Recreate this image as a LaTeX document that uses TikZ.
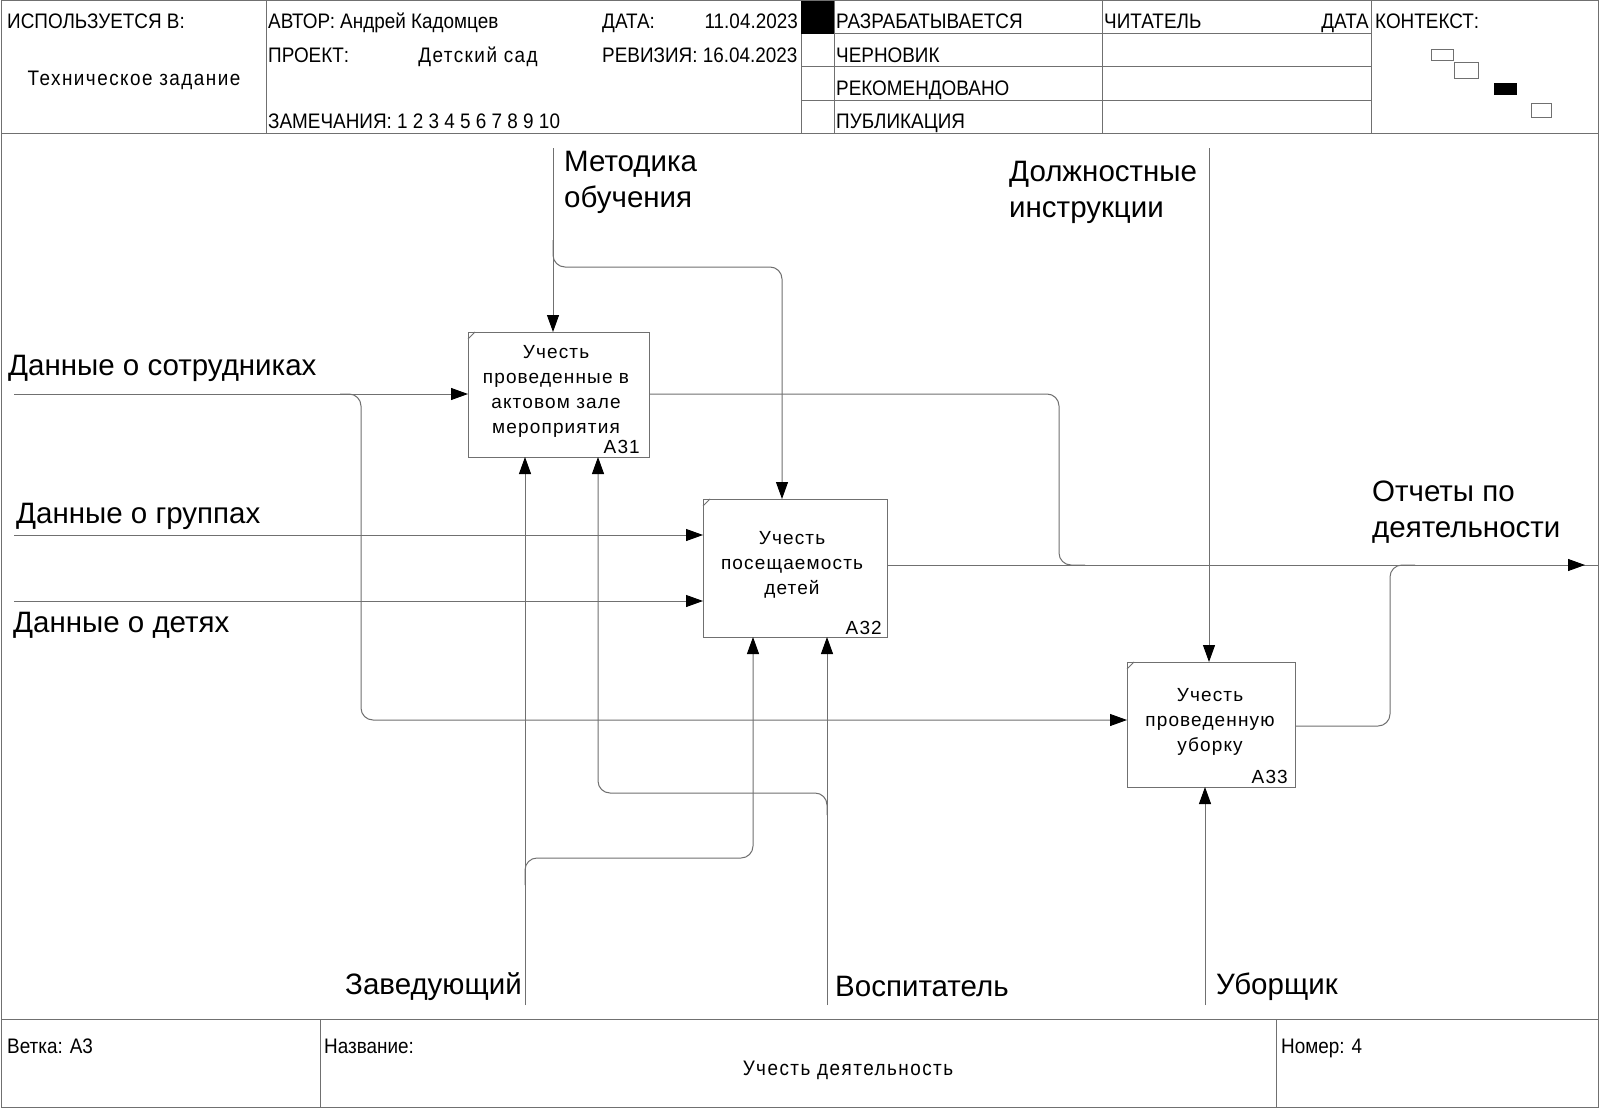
\documentclass[tikz,border=0pt]{standalone}
\usepackage{fontspec}
\setmainfont{Liberation Sans}
\newfontfamily\hdrfont[FakeStretch=0.9]{Liberation Sans}
\newfontfamily\hdrspfont[FakeStretch=0.9,LetterSpace=7]{Liberation Sans}
\newfontfamily\actfont[LetterSpace=6]{Liberation Sans}
\usetikzlibrary{arrows.meta}
\definecolor{rulegray}{RGB}{112,112,112}

\tikzset{
  rule/.style={draw=rulegray, line width=1pt},
  wire/.style={draw=rulegray, line width=1pt, rounded corners=12pt},
  flow/.style={wire, -{Triangle[length=17pt,width=12pt,color=black]}},
  actbox/.style={draw=rulegray, line width=1pt, outer sep=0pt, inner sep=0pt},
  hdr/.style={font=\hdrfont\fontsize{21}{24}\selectfont, inner sep=0pt, anchor=base west},
  hdrsp/.style={font=\hdrspfont\fontsize{21}{24}\selectfont, inner sep=0pt, anchor=base},
  biglabel/.style={font=\fontsize{29.5}{36}\selectfont, inner sep=0pt, align=left, anchor=base west},
  acttext/.style={font=\actfont\fontsize{19}{25}\selectfont, inner sep=0pt, align=center},
  actnum/.style={font=\actfont\fontsize{19}{25}\selectfont, inner sep=0pt, anchor=base east},
}

\begin{document}
\begin{tikzpicture}[x=1pt,y=-1pt]
\useasboundingbox (0,0) rectangle (1600,1108);
\fill[white] (0,0) rectangle (1600,1108);

% ---- sheet frame, header and footer grid ----
\draw[rule] (1,1) rectangle (1598,1107);
\draw[rule] (1,133.5) -- (1598,133.5);
\draw[rule] (1,1019.5) -- (1598,1019.5);
\draw[rule] (266,1) -- (266,133.5);
\draw[rule] (801,1) -- (801,133.5);
\draw[rule] (834,1) -- (834,133.5);
\draw[rule] (1102,1) -- (1102,133.5);
\draw[rule] (1371,1) -- (1371,133.5);
\foreach \y in {34,67,100} \draw[rule] (801,\y) -- (1371,\y);
\fill[black] (801,1) rectangle (834,34);
\draw[rule] (320,1019.5) -- (320,1107);
\draw[rule] (1276.5,1019.5) -- (1276.5,1107);

% context thumbnail
\draw[rule] (1431,50) rectangle (1453,61);
\draw[rule] (1454,63) rectangle (1478,78);
\fill[black] (1494,83) rectangle (1517,95);
\draw[rule] (1531,103) rectangle (1551,117);

% ---- header texts ----
\node[hdr] (usedin) at (7,29) {ИСПОЛЬЗУЕТСЯ В:};
\node[hdrsp] (spec) at (134,85.5) {Техническое задание};
\node[hdr] (author) at (268,29) {АВТОР: Андрей Кадомцев};
\node[hdr] (datelbl) at (602,29) {ДАТА:};
\node[hdr, anchor=base east] (dateval) at (798,29) {11.04.2023};
\node[hdr] (project) at (268,62.5) {ПРОЕКТ:};
\node[hdrsp] (projname) at (478,62.5) {Детский сад};
\node[hdr] (revision) at (602,62.5) {РЕВИЗИЯ: 16.04.2023};
\node[hdr] (notes) at (268,128) {ЗАМЕЧАНИЯ: 1 2 3 4 5 6 7 8 9 10};
\node[hdr] (st1) at (836,29) {РАЗРАБАТЫВАЕТСЯ};
\node[hdr] (st2) at (836,62.5) {ЧЕРНОВИК};
\node[hdr] (st3) at (836,95.5) {РЕКОМЕНДОВАНО};
\node[hdr] (st4) at (836,128) {ПУБЛИКАЦИЯ};
\node[hdr] (reader) at (1104,29) {ЧИТАТЕЛЬ};
\node[hdr, anchor=base east] (rdate) at (1369,29) {ДАТА};
\node[hdr] (context) at (1375,29) {КОНТЕКСТ:};

% ---- footer texts ----
\node[hdr] (branch) at (7,1053) {Ветка: А3};
\node[hdr] (titlelbl) at (324,1053) {Название:};
\node[hdrsp] (title) at (848,1075) {Учесть деятельность};
\node[hdr] (number) at (1281,1053) {Номер: 4};

% ---- activity boxes ----
\node[actbox, minimum width=181pt, minimum height=125pt] (A31) at (558.5,394.5) {};
\node[actbox, minimum width=184pt, minimum height=138pt] (A32) at (795,568) {};
\node[actbox, minimum width=168pt, minimum height=125pt] (A33) at (1211,724.5) {};
\foreach \b in {A31,A32,A33}
  \draw[rule] (\b.north west) ++(0,7) -- ++(7,-7);

\node[acttext] (A31t) at (556,391.5) {Учесть\\проведенные в\\актовом зале\\мероприятия};
\node[actnum] (A31n) at (640,453) {А31};
\node[acttext] (A32t) at (792,565) {Учесть\\посещаемость\\детей};
\node[actnum] (A32n) at (882,634) {А32};
\node[acttext] (A33t) at (1210,722) {Учесть\\проведенную\\уборку};
\node[actnum] (A33n) at (1288,783) {А33};

% ---- arrow labels ----
\node[biglabel] (staff) at (8,375) {Данные о сотрудниках};
\node[biglabel] (groups) at (16,523) {Данные о группах};
\node[biglabel] (kids) at (13,632) {Данные о детях};
\node[biglabel] (method) at (564,207) {Методика\\обучения};
\node[biglabel] (duties) at (1009,217) {Должностные\\инструкции};
\node[biglabel] (reports) at (1372,537) {Отчеты по\\деятельности};
\node[biglabel] (head) at (345,994.5) {Заведующий};
\node[biglabel] (teacher) at (835,996.5) {Воспитатель};
\node[biglabel] (cleaner) at (1216,994.5) {Уборщик};

% ---- connector end points ----
\coordinate (inStaff) at (14,394);
\coordinate (splitStaff) at (361,394);
\coordinate (turnStaff) at (361,720);
\coordinate (inGroups) at (14,535);
\coordinate (inKids) at (14,601);
\coordinate (ctlMethod) at (553,148);
\coordinate (turnMethod) at (553,267);
\coordinate (ctlDuties) at (1209,148);
\coordinate (mechHead) at (525,1005);
\coordinate (turnHead) at (525,858);
\coordinate (mechTeacher) at (827,1005);
\coordinate (turnTeacher) at (827,793);
\coordinate (mechCleaner) at (1205,1005);
\coordinate (outJoin) at (1059,565);
\coordinate (outCleanJoin) at (1390,565);
\coordinate (outTip) at (1585,565);
\coordinate (outEdge) at (1598,565);

% ---- inputs ----
\draw[flow] (inStaff) -- (A31.west |- inStaff);
\draw[flow] (340,394) -- (splitStaff) -- (turnStaff) -- (A33.west |- turnStaff);
\draw[flow] (inGroups) -- (A32.west |- inGroups);
\draw[flow] (inKids) -- (A32.west |- inKids);

% ---- controls ----
\draw[flow] (ctlMethod) -- (A31.north -| ctlMethod);
\draw[flow] (553,240) -- (turnMethod) -- (782,267) -- (A32.north -| 782,0);
\draw[flow] (ctlDuties) -- (A33.north -| ctlDuties);

% ---- mechanisms ----
\draw[flow] (mechHead) -- (A31.south -| mechHead);
\draw[flow] (525,885) -- (turnHead) -- (753,858) -- (A32.south -| 753,0);
\draw[flow] (mechTeacher) -- (A32.south -| mechTeacher);
\draw[flow] (827,815) -- (turnTeacher) -- (598,793) -- (A31.south -| 598,0);
\draw[flow] (mechCleaner) -- (A33.south -| mechCleaner);

% ---- outputs ----
\draw[wire] (A31.east |- 0,394) -- (1059,394) -- (outJoin) -- (1085,565);
\draw[wire] (A32.east |- outEdge) -- (outEdge);
\draw[flow] (A32.east |- outTip) -- (outTip);
\draw[wire] (A33.east |- 0,726) -- (1390,726) -- (outCleanJoin) -- (1415,565);
\end{tikzpicture}
\end{document}
